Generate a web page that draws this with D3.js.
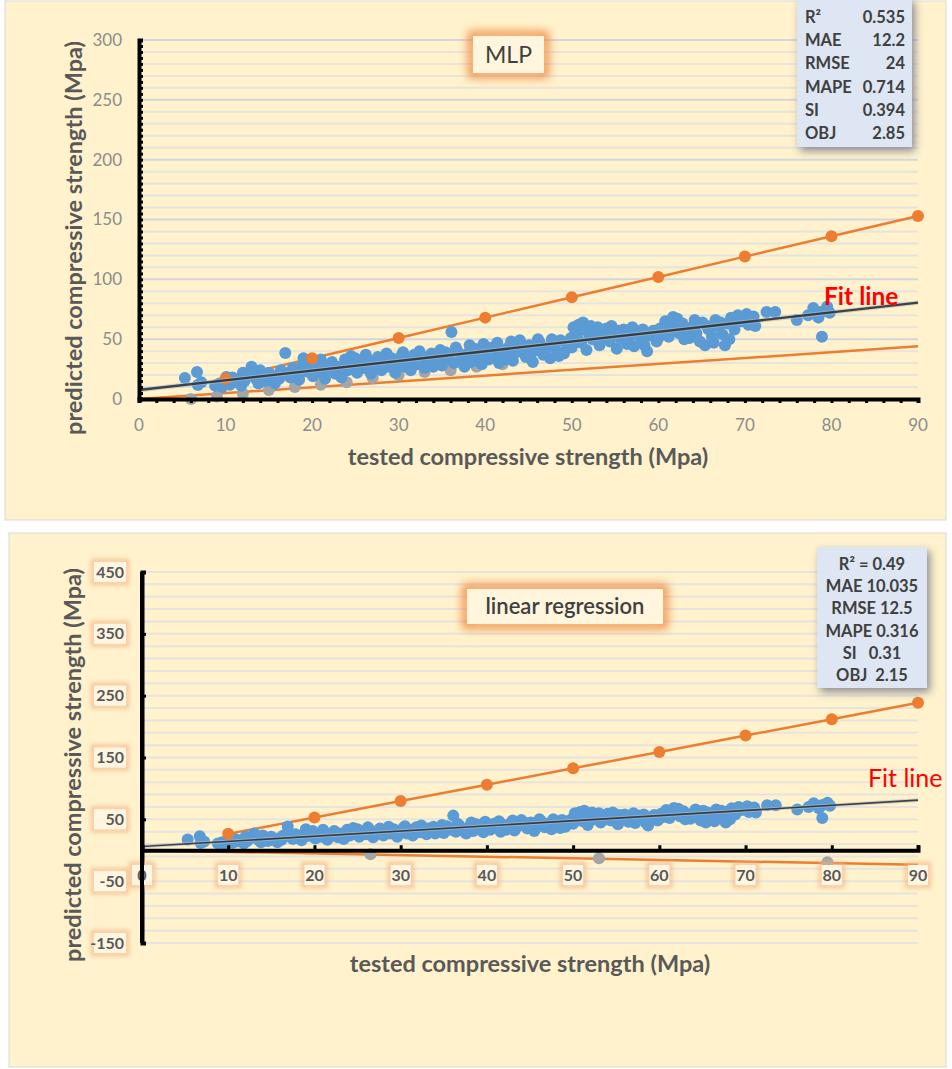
<!DOCTYPE html>
<html><head><meta charset="utf-8">
<script src="https://cdn.jsdelivr.net/npm/d3@7"></script>
<style>
body{margin:0;background:#fff}
svg{display:block}
text{font-family:Lato,"Open Sans","Noto Sans",sans-serif}
</style>
</head><body>
<svg id="c" width="952" height="1069"></svg>
<script>
// ---------- data ----------
const xTickLabels = [0,10,20,30,40,50,60,70,80,90];
const mlpYTickLabels = [0,50,100,150,200,250,300];
const lrYTickLabels = [-150,-50,50,150,250,350,450];

// tested vs predicted (blue scatter)
const observedPoints = [
 [5.3,17.5],[6.7,22.5],[6.8,11.7],[7.2,14],[8.8,11],[9.3,13],[9.6,10],
 [10.1,18.4],[10.8,18],[10.5,12],[11,14],[11.4,16],[11.8,11],[12.2,15],[12.5,19],[13,27],[13.2,21],[13.5,17],[13.8,13],[14.2,19],[14.6,15],[15,22],[15.3,17],[15.7,13],[16,20],
 [16.4,24],[16.9,38.5],[17.2,22],[17.5,18],[17.8,26],[18.2,21],[18.5,16],[18.9,28],[19.3,23],[19.8,31],[20.1,19],[20.4,26],
 [20.8,22],[21.2,29],[21.5,17],[21.9,25],[22.3,31],[22.7,21],[23,27],[23.4,18],[23.8,33],[24.1,24],[24.5,36],[24.8,28],[25.2,22],[25.6,30],
 [26,26],[26.4,33],[26.8,21],[27.2,29],[27.6,35],[28,24],[28.4,31],[28.8,27],[29.2,34],[29.6,22],[30,30],[30.3,36],[30.7,27],
 [31,33],[31.4,24],[31.8,37],[32.2,29],[32.6,35],[33,26],[33.4,32],[33.8,38],[34.2,30],[34.6,35],[35,28],[35.4,39],[35.8,33],[36.1,56],[36.4,30],[36.8,40],
 [37.2,34],[37.6,27],[38,38],[38.4,31],[38.8,42],[39.2,35],[39.6,29],[40,40],[40.4,33],[40.8,43],[41.2,37],[41.6,30],[42,41],[42.4,36],
 [42.8,44],[43.2,32],[43.6,39],[44,49],[44.3,42],[44.7,35],[45.1,45],[45.5,31],[45.9,41],[46.3,47],[46.7,37],[47.1,43],[47.5,34],
 [47.9,46],[48.3,40],[48.7,49],[49.1,38],[49.5,44],[49.9,51],[50.2,60],[50.5,56],[50.8,62],[51.1,47],[51.4,58],[51.7,41],[52,54],
 [52.4,50],[52.8,57],[53.2,45],[53.6,53],[54,59],[54.4,48],[54.8,55],[55.2,42],[55.6,51],[56,58],[56.4,46],[56.8,53],[57.2,44],
 [57.6,56],[58,50],[58.4,45],[58.7,40],[59,53],[59.4,57],[59.8,48],[60.2,59],[60.6,54],[61,62],[61.4,57],[61.7,68.5],[62,60],
 [62.4,55],[62.8,63],[63.2,58],[63.6,51],[64,61],[64.4,55],[64.8,48],[65.1,64],[65.4,45],[65.8,58],[66.2,52],[66.6,66],[67,60],
 [67.4,54],[67.7,45],[68,63],[68.4,68],[68.8,58],[69.2,70],[69.6,65],[70,68],[70.4,62],[70.8,66],[71.2,61],[72.5,72.7],[73.5,72.7],
 [76,66],[77.3,70],[77.9,76],[78.5,68],[78.9,73],[78.9,52],[79.5,77],[79.8,72],
 [12,22],[14,24],[16.2,17],[19,34],[21,33],[22.5,26],[24,30],[25,34],[26.2,37],[27,25],[28.6,38],[29.4,30],[30.5,39],[31.6,31],
 [32.4,40],[33.2,35],[34,27],[34.8,41],[35.6,36],[36.6,43],[37.4,30],[38.2,45],[39,38],[39.8,46],[40.6,37],[41.4,47],[42.2,33],
 [43,48],[43.8,42],[44.6,44],[45.3,38],[46.1,50],[46.9,40],[47.7,50],[48.5,36],[49.3,47],[50,43],[50.6,52],[51.3,64],[52.2,61],
 [53,60],[53.9,50],[54.6,61],[55.4,57],[56.2,49],[57,60],[58.2,58],[60,51],[60.8,65],[61.2,52],[62.2,67],[63,50],[64.2,66],
 [65.6,61],[66.4,47],[67.2,64],[68.2,50],[69,66],[70.2,71],[71,69]
];

// grey series
const mlpGreyX = [6,9,12,15,18,21,24,27,30,33,36,39,42];
const mlpGreyY = [0,2,4.5,7.5,10,12,14,17.5,20,22.5,24,27,29];
const lrGreyX = [26.5,53,79.5];
const lrGreyY = [-6.5,-13,-19.5];

// upper bound line (orange with markers)
const boundX = [10,20,30,40,50,60,70,80,90];
const mlpUpperY = [17,34,51,68,85,102,119,136,153];
const lrUpperY = [26.5,53,79.5,106,132.5,159,185.5,212,238.5];
// lower bound line (orange, no markers)
const lowerX = [0,90];
const mlpLowerY = [0,44];
const lrLowerY = [0,-23.5];
// fit lines
const fitX = [0,90];
const mlpFitY = [7.5,80.5];
const lrFitY = [6,81];

// statistics boxes
const mlpStatNames = ["R²","MAE","RMSE","MAPE","SI","OBJ"];
const mlpStatValues = ["0.535","12.2","24","0.714","0.394","2.85"];
const lrStatLines = ["R² = 0.49","MAE 10.035","RMSE 12.5","MAPE 0.316","SI   0.31","OBJ  2.15"];

// ---------- drawing ----------
const svg = d3.select("#c");
const defs = svg.append("defs");
[["blur1",2.2],["blur4",4],["blur5",5]].forEach(([id,s])=>{
  defs.append("filter").attr("id",id).attr("x","-50%").attr("y","-50%").attr("width","200%").attr("height","200%")
    .append("feGaussianBlur").attr("stdDeviation",s);
});

const BG = "#fff2cc", BLUE = "#5b9bd5", ORANGE = "#ed7d31", GREY = "#a5a5a5";

function glowBox(g, x, y, w, h, strong){
  g.append("rect").attr("x",x).attr("y",y).attr("width",w).attr("height",h)
    .attr("fill","none").attr("stroke", strong ? ORANGE : "#f4b183")
    .attr("stroke-width", strong ? 7 : 4).attr("opacity", strong ? 0.95 : 0.75)
    .attr("filter", strong ? "url(#blur5)" : "url(#blur1)");
  g.append("rect").attr("x",x+1).attr("y",y+1).attr("width",w-2).attr("height",h-2)
    .attr("fill", strong ? "#fff6dd" : "#fff6e2");
}

function panel(cfg){
  const g = svg.append("g");
  g.append("rect").attr("x",cfg.bg[0]).attr("y",cfg.bg[1]).attr("width",cfg.bg[2]).attr("height",cfg.bg[3])
    .attr("fill",BG).attr("stroke","#d9d9d9").attr("stroke-width",1);
  const x = d3.scaleLinear().domain([0,90]).range(cfg.xRange);
  const y = d3.scaleLinear().domain(cfg.yDomain).range(cfg.yRange);

  // gridlines
  const grid = d3.range(cfg.yDomain[0], cfg.yDomain[1] + 0.001, cfg.gridStep);
  g.append("g").selectAll("line").data(grid).join("line")
    .attr("x1",x(0)).attr("x2",x(90)).attr("y1",d=>y(d)).attr("y2",d=>y(d))
    .attr("stroke",d=>cfg.majorGrid(d) ? "#d3d6de" : "#e6e4dc").attr("stroke-width",2);

  const line = d3.line().x(d=>x(d[0])).y(d=>y(d[1]));
  // lower orange
  g.append("path").datum(lowerX.map((v,i)=>[v,cfg.lowerY[i]])).attr("d",line)
    .attr("fill","none").attr("stroke",ORANGE).attr("stroke-width",2.5);
  // upper orange
  const up = boundX.map((v,i)=>[v,cfg.upperY[i]]);
  g.append("path").datum(up).attr("d",line).attr("fill","none").attr("stroke",ORANGE).attr("stroke-width",2.5);
  // grey points
  g.append("g").selectAll("circle").data(cfg.greyX.map((v,i)=>[v,cfg.greyY[i]])).join("circle")
    .attr("cx",d=>x(d[0])).attr("cy",d=>y(d[1])).attr("r",6).attr("fill",GREY);
  // blue points
  g.append("g").selectAll("circle").data(observedPoints).join("circle")
    .attr("cx",d=>x(d[0])).attr("cy",d=>y(d[1])).attr("r",6).attr("fill",BLUE);
  // upper markers
  g.append("g").selectAll("circle").data(up).join("circle")
    .attr("cx",d=>x(d[0])).attr("cy",d=>y(d[1])).attr("r",6).attr("fill",ORANGE);
  // fit line
  const fit = fitX.map((v,i)=>[v,cfg.fitY[i]]);
  g.append("path").datum(fit).attr("d",line).attr("fill","none").attr("stroke","#bbbbbb").attr("stroke-width",cfg.fitW+2).attr("opacity",0.6);
  g.append("path").datum(fit).attr("d",line).attr("fill","none").attr("stroke","#1f2a33").attr("stroke-width",cfg.fitW).attr("opacity",0.85);

  // axes
  const xAxisY = y(0);
  const xa = g.append("g").attr("transform",`translate(0,${xAxisY})`)
    .call(d3.axisBottom(x).tickValues(d3.range(0,90.01,cfg.xTickStep)).tickSize(cfg.xTickSize).tickFormat(""));
  xa.select(".domain").attr("stroke","#000").attr("stroke-width",4);
  xa.selectAll(".tick line").attr("stroke","#000").attr("stroke-width",3);
  const ya = g.append("g").attr("transform",`translate(${x(0)},0)`)
    .call(d3.axisLeft(y).tickValues(d3.range(cfg.yDomain[0],cfg.yDomain[1]+0.01,cfg.yTickStep)).tickSize(-4).tickFormat(""));
  ya.select(".domain").attr("stroke","#000").attr("stroke-width",4);
  ya.selectAll(".tick line").attr("stroke","#000").attr("stroke-width",3);

  // tick labels
  const fs = cfg.boxed ? 16 : 17;
  const xl = g.append("g").selectAll("g").data(xTickLabels).join("g")
    .attr("transform",d=>`translate(${x(d)},${cfg.xLabelY})`);
  if(cfg.boxed) xl.each(function(d){ glowBox(d3.select(this), -11, -11, 22, 22, false); });
  xl.append("text").attr("text-anchor","middle").attr("dy","0.35em")
    .attr("font-size",fs).attr("font-weight",cfg.boxed?"bold":"normal")
    .attr("fill",cfg.boxed?"#595959":"#8c8c8c").text(d=>d);
  const yl = g.append("g").selectAll("g").data(cfg.yLabels).join("g")
    .attr("transform",d=>`translate(${cfg.yLabelX},${y(d)})`);
  if(cfg.boxed) yl.each(function(d){ glowBox(d3.select(this), -31, -11, 34, 22, false); });
  yl.append("text").attr("text-anchor","end").attr("dy","0.35em")
    .attr("font-size",fs).attr("font-weight",cfg.boxed?"bold":"normal")
    .attr("fill",cfg.boxed?"#595959":"#8c8c8c").text(d=>d);
  if(cfg.boxed){
    g.append("line").attr("x1",x(0)).attr("x2",x(0)).attr("y1",y(cfg.yDomain[0])).attr("y2",y(cfg.yDomain[1]))
      .attr("stroke","#000").attr("stroke-width",4);
  }

  // axis titles
  g.append("text").attr("x",cfg.xTitle[0]).attr("y",cfg.xTitle[1]).attr("text-anchor","middle")
    .attr("font-size",23.5).attr("font-weight","bold").attr("fill","#595959").text("tested compressive strength (Mpa)");
  g.append("text").attr("transform",`translate(${cfg.yTitle[0]},${cfg.yTitle[1]}) rotate(-90)`).attr("text-anchor","middle")
    .attr("font-size",23.5).attr("font-weight","bold").attr("fill","#595959").text("predicted compressive strength (Mpa)");

  // fit label
  g.append("text").attr("x",cfg.fitLabel[0]).attr("y",cfg.fitLabel[1]).attr("font-size",cfg.boxed?25:24.5)
    .attr("font-weight",cfg.boxed?"normal":"bold").attr("fill","#ff0000").text("Fit line");

  // title box
  const tb = g.append("g");
  glowBox(tb, cfg.titleBox[0], cfg.titleBox[1], cfg.titleBox[2], cfg.titleBox[3], true);
  tb.append("text").attr("x",cfg.titleBox[0]+cfg.titleBox[2]/2).attr("y",cfg.titleBox[1]+cfg.titleBox[3]/2)
    .attr("dy","0.35em").attr("text-anchor","middle").attr("font-size",cfg.titleSize)
    .attr("font-weight",cfg.titleWeight).attr("fill","#404040").text(cfg.title);

  // stats box
  const sb = g.append("g");
  const [bx,by,bw,bh] = cfg.statBox;
  sb.append("rect").attr("x",bx+3).attr("y",by+4).attr("width",bw).attr("height",bh)
    .attr("fill","#7f7f8f").attr("filter","url(#blur4)").attr("opacity",0.9);
  sb.append("rect").attr("x",bx).attr("y",by).attr("width",bw).attr("height",bh).attr("fill","#dde6f2");
  return {g, sb};
}

// top panel (MLP)
const mlpPanel = panel({
  bg:[5,1,941,519], xRange:[139,918], yDomain:[0,300], yRange:[399,40],
  gridStep:10, majorGrid:d=>d%50===0, yTickStep:5, xTickStep:2, xTickSize:4, fitW:2.4,
  upperY:mlpUpperY, lowerY:mlpLowerY, greyX:mlpGreyX, greyY:mlpGreyY, fitY:mlpFitY,
  xLabelY:425, yLabelX:122, yLabels:mlpYTickLabels, boxed:false,
  xTitle:[528,465], yTitle:[82,238], fitLabel:[824,305],
  titleBox:[472,35,73,39], title:"MLP", titleSize:23, titleWeight:"normal",
  statBox:[797,-2,115,149]
});
mlpPanel.sb.selectAll("text.n").data(mlpStatNames).join("text")
  .attr("x",805).attr("y",(d,i)=>17+i*23.3).attr("dy","0.35em").attr("font-size",16.5).attr("font-weight","bold")
  .attr("fill","#404040").text(d=>d);
mlpPanel.sb.selectAll("text.v").data(mlpStatValues).join("text")
  .attr("x",905).attr("y",(d,i)=>17+i*23.3).attr("dy","0.35em").attr("text-anchor","end").attr("font-size",16.5).attr("font-weight","bold")
  .attr("fill","#404040").text(d=>d);

// bottom panel (linear regression)
const lrPanel = panel({
  bg:[9,533,937,534], xRange:[142,918], yDomain:[-150,450], yRange:[943,572],
  gridStep:20, majorGrid:d=>false, yTickStep:100, xTickStep:10, xTickSize:-5, fitW:1.6,
  upperY:lrUpperY, lowerY:lrLowerY, greyX:lrGreyX, greyY:lrGreyY, fitY:lrFitY,
  xLabelY:875, yLabelX:124, yLabels:lrYTickLabels, boxed:true,
  xTitle:[530,972], yTitle:[81,765], fitLabel:[868,787],
  titleBox:[466,588,198,37], title:"linear regression", titleSize:22, titleWeight:"600",
  statBox:[817,547,110,141]
});
lrPanel.sb.selectAll("text.l").data(lrStatLines).join("text")
  .attr("x",872).attr("y",(d,i)=>564+i*22.3).attr("dy","0.35em").attr("text-anchor","middle")
  .attr("font-size",16.5).attr("font-weight","bold").attr("fill","#404040").style("white-space","pre").text(d=>d);
</script>
</body></html>
